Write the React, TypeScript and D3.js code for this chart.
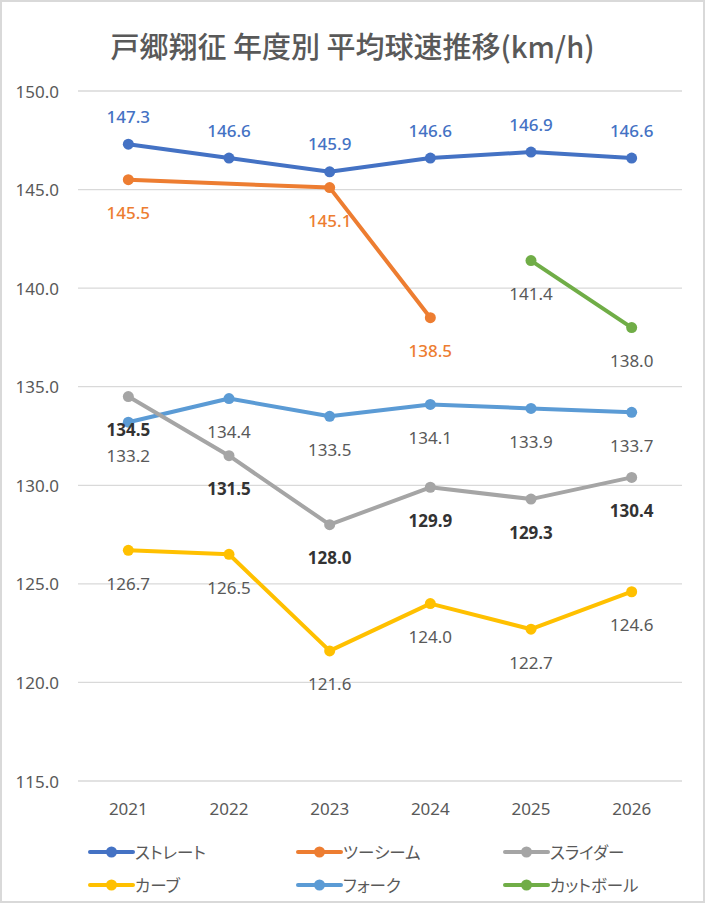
import * as d3 from 'd3';

const years = ['2021', '2022', '2023', '2024', '2025', '2026'];
const yTicks = [115, 120, 125, 130, 135, 140, 145, 150];

const straight = [147.3, 146.6, 145.9, 146.6, 146.9, 146.6];
const twoSeam = [145.5, null, 145.1, 138.5, null, null];
const slider = [134.5, 131.5, 128.0, 129.9, 129.3, 130.4];
const curve = [126.7, 126.5, 121.6, 124.0, 122.7, 124.6];
const fork = [133.2, 134.4, 133.5, 134.1, 133.9, 133.7];
const cutter = [null, null, null, null, 141.4, 138.0];

interface Series {
  name: string;
  values: (number | null)[];
  color: string;
  labelColor: string;
  bold?: boolean;
  above?: boolean;
}

const series: Series[] = [
  { name: 'ストレート', values: straight, color: '#4472C4', labelColor: '#4472C4', above: true },
  { name: 'ツーシーム', values: twoSeam, color: '#ED7D31', labelColor: '#ED7D31' },
  { name: 'スライダー', values: slider, color: '#A5A5A5', labelColor: '#333333', bold: true },
  { name: 'カーブ', values: curve, color: '#FFC000', labelColor: '#595959' },
  { name: 'フォーク', values: fork, color: '#5B9BD5', labelColor: '#595959' },
  { name: 'カットボール', values: cutter, color: '#70AD47', labelColor: '#595959' },
];

// draw order (back to front) as in the reference
const drawOrder = [4, 2, 3, 5, 1, 0];

const W = 705;
const H = 903;
const font = '"Noto Sans", "Noto Sans CJK JP", sans-serif';
const jpFont = '"Noto Sans CJK JP", sans-serif';

export default function App() {
  const margin = { left: 78, right: 23, top: 91, bottom: 122 };
  const x = d3.scaleBand<string>().domain(years).range([margin.left, W - margin.right]);
  const y = d3.scaleLinear().domain([115, 150]).range([H - margin.bottom, margin.top]);
  const cx = (i: number) => (x(years[i]) ?? 0) + x.bandwidth() / 2;

  const line = d3
    .line<{ i: number; v: number }>()
    .x(d => cx(d.i))
    .y(d => y(d.v));

  const legendCols = [90, 298, 505];
  const legendRows = [852, 885];

  return (
    <svg
      width={W}
      height={H}
      style={{ position: 'absolute', left: 0, top: 0, fontFamily: font }}
    >
      <rect x={1} y={1} width={W - 2} height={H - 2} fill="#fff" stroke="#d9d9d9" strokeWidth={2} />
      <text
        x={W / 2}
        y={45}
        textAnchor="middle"
        dominantBaseline="central"
        fontSize={29}
        fontWeight={500}
        fill="#595959"
        fontFamily={jpFont}
        style={{ fontFeatureSettings: '"palt"' }}
      >
        戸郷翔征 年度別 平均球速推移(km/h)
      </text>

      {yTicks.map(t => (
        <g key={t}>
          <line x1={margin.left} x2={W - margin.right} y1={y(t)} y2={y(t)} stroke="#d9d9d9" strokeWidth={1.3} />
          <text x={59} y={y(t)} textAnchor="end" dominantBaseline="central" fontSize={17} fill="#595959">
            {t.toFixed(1)}
          </text>
        </g>
      ))}

      {years.map((yr, i) => (
        <text key={yr} x={cx(i)} y={808} textAnchor="middle" dominantBaseline="central" fontSize={17} fill="#595959">
          {yr}
        </text>
      ))}

      {drawOrder.map(si => {
        const s = series[si];
        const pts = s.values
          .map((v, i) => ({ i, v }))
          .filter((d): d is { i: number; v: number } => d.v !== null);
        return (
          <g key={s.name}>
            <path d={line(pts) ?? ''} fill="none" stroke={s.color} strokeWidth={4} strokeLinejoin="round" strokeLinecap="round" />
            {pts.map(d => (
              <circle key={d.i} cx={cx(d.i)} cy={y(d.v)} r={5.5} fill={s.color} />
            ))}
          </g>
        );
      })}

      {drawOrder.map(si => {
        const s = series[si];
        return (
          <g key={s.name + '-lbl'}>
            {s.values.map((v, i) =>
              v === null ? null : (
                <text
                  key={i}
                  x={cx(i)}
                  y={y(v) + (s.above ? -28 : 33)}
                  textAnchor="middle"
                  dominantBaseline="central"
                  fontSize={17}
                  fontWeight={s.bold ? 'bold' : s.above || si === 1 ? 500 : 'normal'}
                  fill={s.labelColor}
                >
                  {v.toFixed(1)}
                </text>
              )
            )}
          </g>
        );
      })}

      {series.map((s, k) => {
        const lx = legendCols[k % 3];
        const ly = legendRows[Math.floor(k / 3)];
        return (
          <g key={s.name + '-leg'}>
            <line x1={lx} x2={lx + 43} y1={ly} y2={ly} stroke={s.color} strokeWidth={4} strokeLinecap="round" />
            <circle cx={lx + 21.5} cy={ly} r={5.5} fill={s.color} />
            <text
              x={lx + 45}
              y={ly}
              dominantBaseline="central"
              fontSize={16.5}
              fill="#595959"
              fontFamily={jpFont}
              style={{ fontFeatureSettings: '"palt"' }}
            >
              {s.name}
            </text>
          </g>
        );
      })}
    </svg>
  );
}
